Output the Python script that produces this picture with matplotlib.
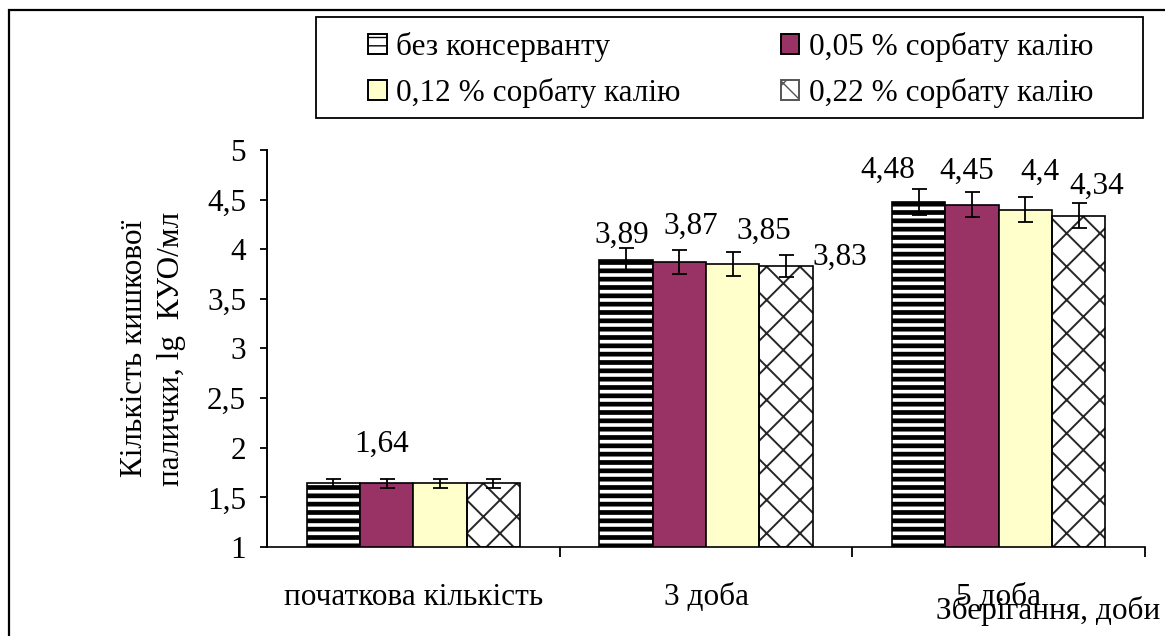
import matplotlib
matplotlib.use("Agg")
import matplotlib.pyplot as plt
import numpy as np
from matplotlib.patches import Rectangle

categories = ["початкова кількість", "3 доба", "5 доба"]
series_names = ["без консерванту", "0,05 % сорбату калію",
                "0,12 % сорбату калію", "0,22 % сорбату калію"]
values_none = [1.64, 3.89, 4.48]
values_005 = [1.64, 3.87, 4.45]
values_012 = [1.64, 3.85, 4.40]
values_022 = [1.64, 3.83, 4.34]
errors_none = [0.05, 0.12, 0.13]
errors_005 = [0.05, 0.12, 0.13]
errors_012 = [0.05, 0.12, 0.13]
errors_022 = [0.05, 0.11, 0.13]
yticks = [1, 1.5, 2, 2.5, 3, 3.5, 4, 4.5, 5]
ytick_labels = ["1", "1,5", "2", "2,5", "3", "3,5", "4", "4,5", "5"]
y_label = "Кількість кишкової\nпалички, lg  КУО/мл"
x_label = "Зберігання, доби"

# which bars carry a value label, and label offsets (pixels) from bar top
label_offsets = {
    (0, 1): (-5, 39),
    (1, 0): (-4, 25), (1, 1): (11, 36), (1, 2): (31, 33), (1, 3): (54, 9),
    (2, 0): (-31, 31), (2, 1): (-5, 33), (2, 2): (15, 37), (2, 3): (18, 29),
}

DPI = 100
plt.rcParams['font.family'] = ['Liberation Serif', 'DejaVu Serif']
FS = 22.5

fig = plt.figure(figsize=(1165 / DPI, 636 / DPI), dpi=DPI)
# outer frame
fig.patches.append(Rectangle((9 / 1165, -0.05), 1.2, (636 - 10) / 636 + 0.05,
                             transform=fig.transFigure, fill=False,
                             edgecolor='black', lw=1.6, zorder=0))
# legend frame
fig.patches.append(Rectangle((316 / 1165, 1 - 118 / 636), (1143 - 316) / 1165, 101 / 636,
                             transform=fig.transFigure, fill=False,
                             edgecolor='black', lw=1.3, zorder=1))

ax = fig.add_axes([267 / 1165, 1 - 547 / 636, (1145 - 267) / 1165, (547 - 150) / 636])

all_vals = [values_none, values_005, values_012, values_022]
all_errs = [errors_none, errors_005, errors_012, errors_022]
styles = [
    dict(facecolor='white', hatch='--', hatchcolor='black', hlw=3.4),
    dict(facecolor='#993366', hatch=None, hatchcolor='black', hlw=1.0),
    dict(facecolor='#FFFFCC', hatch=None, hatchcolor='black', hlw=1.0),
    dict(facecolor='white', hatch='x', hatchcolor='#262626', hlw=1.4),
]
x = np.arange(len(categories))
w = 0.182
handles = []
for i, (vals, errs, st) in enumerate(zip(all_vals, all_errs, styles)):
    pos = x + (i - 1.5) * w
    with plt.rc_context({'hatch.linewidth': st['hlw']}):
        if st['hatch']:
            b = ax.bar(pos, np.array(vals) - 1, w, bottom=1, color=st['facecolor'],
                       edgecolor=st['hatchcolor'], hatch=st['hatch'], lw=0, zorder=2)
            for p in b:
                if hasattr(p, 'set_hatch_linewidth'):
                    p.set_hatch_linewidth(st['hlw'])
        ax.bar(pos, np.array(vals) - 1, w, bottom=1,
               color=st['facecolor'] if not st['hatch'] else 'none',
               edgecolor='black', lw=1.2, zorder=3)
    ax.errorbar(pos, vals, yerr=errs, fmt='none', ecolor='black', elinewidth=1.3,
                capsize=5.4, capthick=1.3, zorder=4)
    # legend handle
    hl = 2.4 if st['hatch'] == '--' else 1.0
    with plt.rc_context({'hatch.linewidth': hl}):
        h = Rectangle((0, 0), 1, 1, facecolor=st['facecolor'],
                      edgecolor='black' if st['hatch'] != 'x' else '#555555',
                      hatch=st['hatch'], lw=1.4)
        if hasattr(h, 'set_hatch_linewidth'):
            h.set_hatch_linewidth(hl)
    handles.append(h)
    for j, v in enumerate(vals):
        if (j, i) in label_offsets:
            dx, dy = label_offsets[(j, i)]
            ax.annotate(f"{v:g}".replace('.', ','), xy=(pos[j], v),
                        xytext=(dx * 72 / DPI, dy * 72 / DPI), textcoords='offset points',
                        ha='center', va='center', fontsize=FS, zorder=5)

ax.set_xlim(-0.5, 2.5)
ax.set_ylim(1, 5)
ax.set_yticks(yticks)
ax.set_yticklabels(ytick_labels, fontsize=FS)
ax.set_xticks(x)
ax.set_xticklabels(categories, fontsize=FS)
ax.set_xticks([0.5, 1.5, 2.5], minor=True)
ax.tick_params(axis='x', which='major', length=0, pad=26)
ax.tick_params(axis='x', which='minor', length=7, width=1.3, direction='out')
ax.tick_params(axis='y', length=5, width=1.3, direction='out', pad=10)
for s in ['top', 'right']:
    ax.spines[s].set_visible(False)
ax.spines['left'].set_linewidth(1.4)
ax.spines['bottom'].set_linewidth(1.2)
ax.set_ylabel(y_label, fontsize=FS, linespacing=1.35, va='center')
ax.yaxis.set_label_coords((153 - 267) / (1145 - 267), 0.5)

fig.text(1160 / 1165, 1 - 611 / 636, x_label, ha='right', va='center', fontsize=FS)

order = [0, 2, 1, 3]
leg = fig.legend([handles[k] for k in order], [series_names[k] for k in order],
                 ncol=2, loc='upper left', bbox_to_anchor=(368 / 1165, 1 - 32 / 636),
                 frameon=False, fontsize=FS,
                 handlelength=0.6, handleheight=0.6, handletextpad=0.3,
                 columnspacing=3.2, borderpad=0.0, labelspacing=0.5,
                 borderaxespad=0)

fig.savefig("out.png", dpi=DPI)
